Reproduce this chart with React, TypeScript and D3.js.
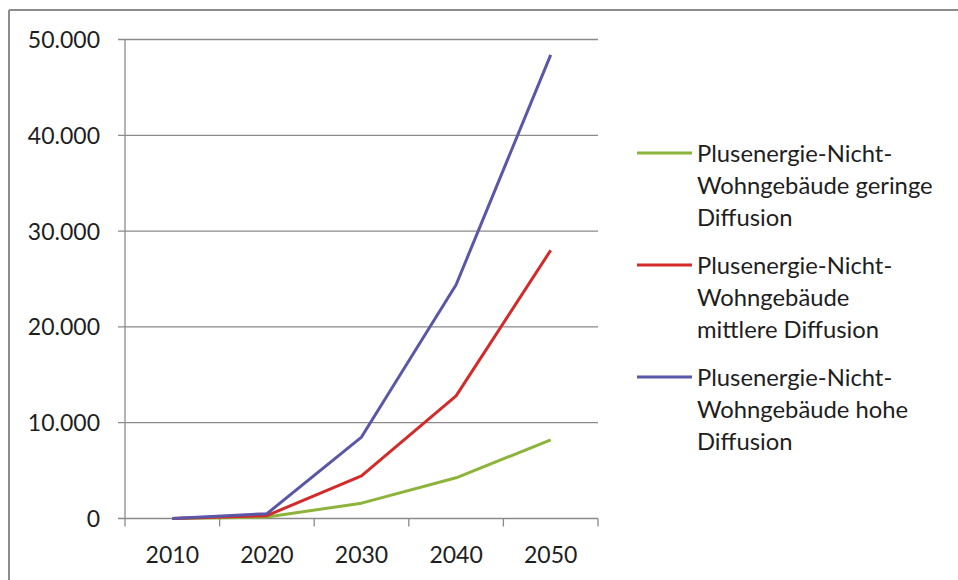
import { useMemo } from "react";
import * as d3 from "d3";

// Jahre (Kategorien) und Bestand je Szenario
const years = ["2010", "2020", "2030", "2040", "2050"];
const geringValues = [0, 150, 1600, 4250, 8200];
const mittelValues = [0, 300, 4450, 12800, 28000];
const hochValues = [0, 500, 8500, 24400, 48400];
const yTicks = [0, 10000, 20000, 30000, 40000, 50000];

const seriesNames = [
  ["Plusenergie-Nicht-", "Wohngebäude geringe", "Diffusion"],
  ["Plusenergie-Nicht-", "Wohngebäude", "mittlere Diffusion"],
  ["Plusenergie-Nicht-", "Wohngebäude hohe", "Diffusion"],
];
const seriesColors = ["#8db43a", "#d42a2a", "#5a56a8"];

const W = 958;
const H = 580;
const FONT = "Lato, 'Open Sans', sans-serif";

export default function App() {
  const series = [geringValues, mittelValues, hochValues];

  const x = useMemo(
    () => d3.scaleBand<string>().domain(years).range([125, 598]),
    [],
  );
  const y = useMemo(
    () => d3.scaleLinear().domain([0, 50000]).range([518.5, 39.5]),
    [],
  );

  const line = d3
    .line<number>()
    .x((_, i) => (x(years[i]) ?? 0) + x.bandwidth() / 2)
    .y((d) => y(d));

  // Zahlen im deutschen Format: 50.000
  const fmt = (v: number) => d3.format(",")(v).replace(/,/g, ".");

  const [x0, x1] = x.range();

  return (
    <div style={{ position: "absolute", left: 0, top: 0 }}>
      <svg width={W} height={H} style={{ display: "block", background: "#fff" }}>
        {/* Rahmen oben und links */}
        <line x1={9} x2={W} y1={10} y2={10} stroke="#8c8c8c" strokeWidth={2} />
        <line x1={9} x2={9} y1={10} y2={H} stroke="#8c8c8c" strokeWidth={2} />

        {/* Gitterlinien und y-Beschriftung */}
        {yTicks.map((t) => (
          <g key={t}>
            <line
              x1={x0 - 7}
              x2={x1}
              y1={y(t)}
              y2={y(t)}
              stroke="#8a8a8a"
              strokeWidth={1.3}
            />
            <text
              x={100}
              y={y(t) + 8.5}
              textAnchor="end"
              fontFamily={FONT}
              fontSize={23}
              fill="#1e1e1e"
            >
              {fmt(t)}
            </text>
          </g>
        ))}

        {/* y-Achse */}
        <line x1={x0} x2={x0} y1={y(50000)} y2={y(0)} stroke="#8a8a8a" strokeWidth={1.3} />

        {/* x-Achse Teilstriche */}
        {[...years.map((d) => x(d) ?? 0), x1].map((p, i) => (
          <line key={i} x1={p} x2={p} y1={y(0)} y2={y(0) + 8} stroke="#8a8a8a" strokeWidth={1.3} />
        ))}
        {years.map((d) => (
          <text
            key={d}
            x={(x(d) ?? 0) + x.bandwidth() / 2}
            y={563}
            textAnchor="middle"
            fontFamily={FONT}
            fontSize={23}
            fill="#1e1e1e"
          >
            {d}
          </text>
        ))}

        {/* Linien */}
        {series.map((s, i) => (
          <path
            key={i}
            d={line(s) ?? ""}
            fill="none"
            stroke={seriesColors[i]}
            strokeWidth={3}
            strokeLinejoin="round"
          />
        ))}

        {/* Legende */}
        {seriesNames.map((lines, i) => {
          const ly = 153 + i * 112;
          return (
            <g key={i}>
              <line x1={637} x2={692} y1={ly} y2={ly} stroke={seriesColors[i]} strokeWidth={3} />
              {lines.map((t, j) => (
                <text
                  key={j}
                  x={697}
                  y={ly + 9 + j * 32}
                  fontFamily={FONT}
                  fontSize={23.8}
                  fill="#1e1e1e"
                >
                  {t}
                </text>
              ))}
            </g>
          );
        })}
      </svg>
    </div>
  );
}
